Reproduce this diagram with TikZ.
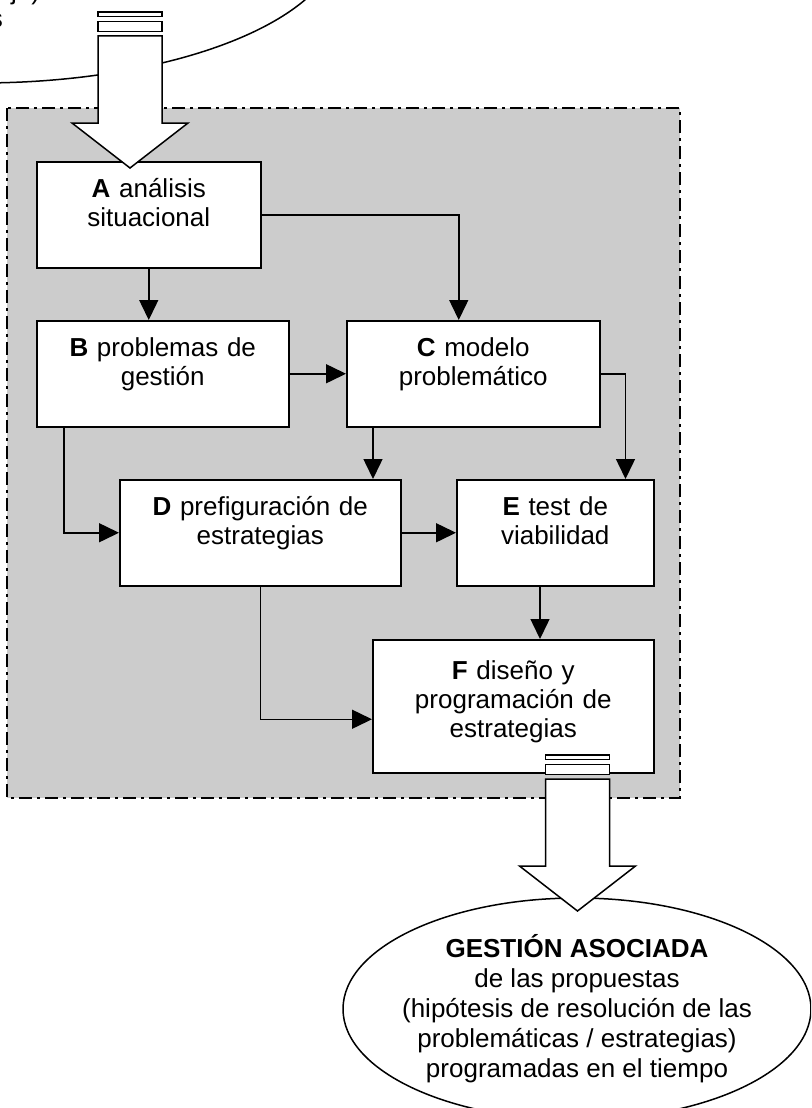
\documentclass[tikz,border=0pt]{standalone}
\usepackage{fontspec}
\setmainfont{Liberation Sans}
\usetikzlibrary{arrows.meta,shapes.geometric}

\tikzset{
  paso/.style={draw,fill=white,line width=1.5pt,inner sep=0pt,anchor=north west,align=center,text height=36pt,text depth=70pt},
  flecha/.style={line width=1.5pt,-{Triangle[length=20pt,width=19pt]}},
  globo/.style={draw,ellipse,fill=white,line width=1.5pt,inner sep=0pt},
  bloque/.style={draw,fill=white,line width=1.5pt},
  fondo/.style={draw,fill=black!20,line width=1.5pt,dash pattern=on 13pt off 5pt on 3pt off 5pt},
}

\begin{document}
\begin{tikzpicture}[x=1pt,y=-1pt,font=\fontsize{26pt}{29pt}\selectfont]
\useasboundingbox (0,0) rectangle (811,1108);
\clip (0,0) rectangle (811,1108);

% globo de entrada (cortado)
\node [globo,minimum width=720pt,minimum height=292pt] (entrada) at (-20,-63) {};
\node [anchor=base west,inner sep=0pt] (frag1) at (11,0) {ja)};
\node [anchor=base east,inner sep=0pt] (frag2) at (3,28) {s};

\draw [fondo] (7,108) rectangle (680,798);

\node [paso,text width=224pt] (A) at (36,161) {\textbf{A} análisis\\situacional};
\node [paso,text width=252pt] (B) at (36,320) {\textbf{B} problemas de\\gestión};
\node [paso,text width=253pt] (C) at (346,320) {\textbf{C} modelo\\problemático};
\node [paso,text width=281pt] (D) at (119,479) {\textbf{D} prefiguración de\\estrategias};
\node [paso,text width=197pt] (E) at (456,479) {\textbf{E} test de\\viabilidad};
\node [paso,text width=281pt,text height=40pt,text depth=93pt] (F) at (372,639) {\textbf{F} diseño y\\programación de\\estrategias};

\draw [flecha] (A.south) -- (A.south |- B.north);
\draw [flecha] (A.east) -| ([xshift=-14.5pt]C.north);
\draw [flecha] (B.east) -- (C.west);
\draw [flecha] (C.east) -| ([xshift=-29pt]E.north east);
\draw [flecha] ([xshift=27pt]C.south west) -- ([xshift=27pt]C.south west |- D.north);
\draw [flecha] ([xshift=28pt]B.south west) |- (D.west);
\draw [flecha] (D.east) -- (E.west);
\draw [flecha] ([xshift=84pt]E.south west) -- ([xshift=84pt]E.south west |- F.north);
\draw [flecha] (D.south) |- ([yshift=-13pt]F.west);

% globo de salida
\node [globo,minimum width=468pt,minimum height=222pt,
  label={[align=center,font=\fontsize{26pt}{30pt}\selectfont]center:{\textbf{GESTIÓN ASOCIADA}\\de las propuestas\\(hipótesis de resolución de las\\problemáticas / estrategias)\\programadas en el tiempo}}] (salida) at (577,1009) {};

% flechas gruesas
\foreach \cx/\cy in {130/12,577.5/755}{
  \draw [bloque] (\cx-32,\cy) rectangle (\cx+32,\cy+4.5);
  \draw [bloque] (\cx-32,\cy+9.5) rectangle (\cx+32,\cy+19.5);
  \draw [bloque] (\cx-32,\cy+24) -- (\cx-32,\cy+111) -- (\cx-58,\cy+111) -- (\cx,\cy+156) -- (\cx+58,\cy+111) -- (\cx+32,\cy+111) -- (\cx+32,\cy+24) -- cycle;
}
\end{tikzpicture}
\end{document}
